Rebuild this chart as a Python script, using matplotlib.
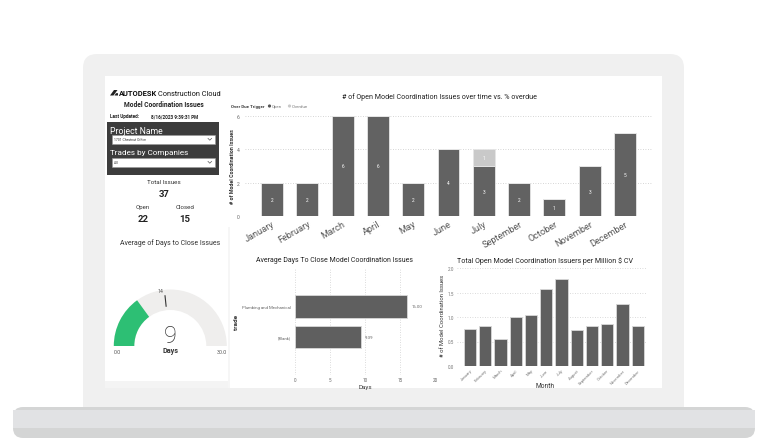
import matplotlib
matplotlib.use("Agg")
import matplotlib.pyplot as plt
from matplotlib.patches import Rectangle, FancyBboxPatch, Wedge, Circle, Polygon
from matplotlib import font_manager as fm
import numpy as np

# ---------------- data ----------------
months_top = ["January", "February", "March", "April", "May", "June", "July",
              "September", "October", "November", "December"]
open_issues = [2, 2, 6, 6, 2, 4, 3, 2, 1, 3, 5]
overdue_issues = [0, 0, 0, 0, 0, 0, 1, 0, 0, 0, 0]

trades = ["Plumbing and Mechanical", "(Blank)"]
avg_days = [16.00, 9.39]

months_all = ["January", "February", "March", "April", "May", "June", "July",
              "August", "September", "October", "November", "December"]
per_million = [0.75, 0.81, 0.55, 1.01, 1.04, 1.57, 1.77, 0.73, 0.81, 0.85, 1.26, 0.81]

gauge_value = 9
gauge_target = 14
gauge_min, gauge_max = 0.0, 30.0

total_issues, open_count, closed_count = 37, 22, 15

# ---------------- fonts ----------------
names = {f.name for f in fm.fontManager.ttflist}
FONT = "Liberation Sans Narrow" if "Liberation Sans Narrow" in names else "Roboto"
plt.rcParams["font.family"] = [FONT, "DejaVu Sans"]

W, H = 768, 439
fig = plt.figure(figsize=(W / 100, H / 100), dpi=100)
fig.patch.set_facecolor("white")

bg = fig.add_axes([0, 0, 1, 1])
bg.set_xlim(0, W)
bg.set_ylim(H, 0)
bg.axis("off")
bg.set_zorder(0)


def px_axes(l, t, r, b):
    ax = fig.add_axes([l / W, 1 - b / H, (r - l) / W, (b - t) / H])
    ax.set_zorder(2)
    ax.patch.set_alpha(0)
    return ax


# ---------------- laptop ----------------
bg.add_patch(FancyBboxPatch((83 + 14, 55 + 14), 601 - 28, 380 - 28,
                            boxstyle="round,pad=14", fc="#f0f0f0", ec="none"))
bg.add_patch(Rectangle((105, 77), 557, 312, fc="white", ec="none"))
# left card separators
bg.add_patch(Rectangle((105, 382), 123, 7, fc="#f4f4f4", ec="none"))
bg.add_patch(Rectangle((228, 228), 2, 161, fc="#f6f6f6", ec="none"))
# base
bg.add_patch(FancyBboxPatch((13 + 10, 418), 742 - 20, 11, boxstyle="round,pad=10",
                            fc="#d4d5d5", ec="none"))
bg.add_patch(Rectangle((13, 411), 742, 18, fc="#e1e2e4", ec="none"))

# ---------------- left panel ----------------
bg.add_patch(Polygon([[110, 96.5], [114, 91], [117.5, 91], [113.5, 96.5]], fc="#222", ec="none"))
bg.add_patch(Polygon([[114.5, 96.5], [116, 94.2], [118, 94.2], [118, 96.5]], fc="#222", ec="none"))
t_auto = bg.text(118.5, 94, "AUTODESK", fontsize=5.4, fontweight="bold", color="#111", va="center")
fig.canvas.draw()
x_end = t_auto.get_window_extent().x1
bg.text(x_end + 1.5, 94, "Construction Cloud", fontsize=5.3, color="#111", va="center")
bg.text(164, 105, "Model Coordination Issues", fontsize=4.8, fontweight="bold",
        color="#222", ha="center", va="center")
bg.text(110, 117, "Last Updated:", fontsize=3.4, fontweight="bold", color="#222", va="center")
bg.text(175, 117, "8/16/2023 9:39:31 PM", fontsize=3.3, fontweight="bold", color="#222",
        va="center", ha="center")
bg.add_patch(Rectangle((107, 123), 112, 53, fc="#3c3c3c", ec="none"))
bg.text(110, 132, "Project Name", fontsize=6.2, color="white", va="center")
bg.text(110, 153, "Trades by Companies", fontsize=5.9, color="white", va="center")
for y0, label in [(136, "1701 Chestnut Office"), (159, "All")]:
    bg.add_patch(Rectangle((112, y0), 103, 8.5, fc="white", ec="#999", lw=0.4))
    bg.text(114, y0 + 4.3, label, fontsize=2.4, color="#333", va="center")
    bg.plot([208, 209.8, 211.6], [y0 + 3.4, y0 + 5.2, y0 + 3.4], color="#555", lw=0.5)
bg.text(164, 183, "Total Issues", fontsize=4.5, color="#333", ha="center", va="center")
bg.text(164, 194.5, str(total_issues), fontsize=6.8, fontweight="bold", color="#222",
        ha="center", va="center")
bg.text(143, 208, "Open", fontsize=4.4, color="#333", ha="center", va="center")
bg.text(185, 208, "Closed", fontsize=4.4, color="#333", ha="center", va="center")
bg.text(143, 219.5, str(open_count), fontsize=6.8, fontweight="bold", color="#222",
        ha="center", va="center")
bg.text(185, 219.5, str(closed_count), fontsize=6.8, fontweight="bold", color="#222",
        ha="center", va="center")

# ---------------- gauge ----------------
gcx, gcy, R, r = 170.3, 347, 56.5, 36.0
bg.text(170, 243, "Average of Days to Close Issues", fontsize=5.0, color="#333",
        ha="center", va="center")


def vis2data(a):
    return 360 - a


frac_v = (gauge_value - gauge_min) / (gauge_max - gauge_min)
frac_t = (gauge_target - gauge_min) / (gauge_max - gauge_min)
ang_v = 180 - 180 * frac_v
ang_t = 180 - 180 * frac_t
bg.add_patch(Wedge((gcx, gcy), R, vis2data(180), vis2data(0), width=R - r, fc="#efeeed", ec="none"))
bg.add_patch(Wedge((gcx, gcy), R, vis2data(180), vis2data(ang_v), width=R - r, fc="#2dbf74", ec="none"))
ta = np.deg2rad(ang_t)
bg.plot([gcx + (r + 4) * np.cos(ta), gcx + (R - 6) * np.cos(ta)],
        [gcy - (r + 4) * np.sin(ta), gcy - (R - 6) * np.sin(ta)], color="#333", lw=0.8)
bg.text(gcx + (R - 2) * np.cos(ta) - 4, gcy - (R - 2) * np.sin(ta) - 1.5, f"{gauge_target}",
        fontsize=3.8, color="#555", ha="center", va="center")
bg.text(gcx, 336.5, f"{gauge_value}", fontsize=17, color="#333", ha="center", va="center",
        fontweight="light")
bg.text(gcx, 351.5, "Days", fontsize=5.2, fontweight="bold", color="#333", ha="center", va="center")
bg.text(117, 353, f"{gauge_min:.1f}", fontsize=3.9, color="#555", ha="center", va="center")
bg.text(222, 353, f"{gauge_max:.1f}", fontsize=3.9, color="#555", ha="center", va="center")

# ---------------- top bar chart ----------------
BAR = "#626262"
LIGHT = "#c9c9c9"
ax1 = px_axes(245, 113, 652, 217)
x = np.arange(len(months_top))
ax1.bar(x, open_issues, width=0.62, color=BAR, edgecolor="#e6e6e6", lw=0.6, zorder=3)
ax1.bar(x, overdue_issues, bottom=open_issues, width=0.62, color=LIGHT,
        edgecolor="#e6e6e6", lw=0.6, zorder=3)
for i, (o, d) in enumerate(zip(open_issues, overdue_issues)):
    ax1.text(i, o / 2, str(o), color="white", fontsize=3.4, ha="center", va="center", zorder=4)
    if d:
        ax1.text(i, o + d / 2, str(d), color="white", fontsize=3.4, ha="center", va="center", zorder=4)
ax1.set_xlim(-0.765, 10.765)
ax1.set_ylim(0, 6.24)
ax1.set_yticks([0, 2, 4, 6])
ax1.grid(axis="y", linestyle=(0, (1, 2)), color="#c8c8c8", lw=0.6, zorder=0)
ax1.set_xticks(x)
ax1.set_xticklabels(months_top, rotation=30, ha="right", rotation_mode="anchor",
                    fontsize=6.6, color="#555")
ax1.tick_params(axis="both", length=0)
ax1.tick_params(axis="y", labelsize=3.6, labelcolor="#666", pad=4)
ax1.tick_params(axis="x", pad=2)
for s in ax1.spines.values():
    s.set_visible(False)
bg.text(232, 167, "# of Model Coordination Issues", fontsize=3.9, fontweight="bold", color="#333",
        rotation=90, ha="center", va="center")
bg.text(440, 97, "# of Open Model Coordination Issues over time vs. % overdue", fontsize=5.1,
        color="#222", ha="center", va="center")
bg.text(231, 107, "Over Due Trigger", fontsize=3.2, fontweight="bold", color="#333", va="center")
bg.add_patch(Circle((269.5, 107), 1.6, fc="#555", ec="none"))
bg.text(272, 107, "Open", fontsize=3.2, color="#777", va="center")
bg.add_patch(Circle((289.5, 107), 1.6, fc=LIGHT, ec="none"))
bg.text(292, 107, "Overdue", fontsize=3.2, color="#777", va="center")

# ---------------- bottom middle horizontal bars ----------------
ax2 = px_axes(295, 270, 435, 376)
yy = np.arange(len(trades))
ax2.barh(yy, avg_days, height=0.75, color="#5f5f5f", edgecolor="#d8d8d8", lw=0.6, zorder=3)
for i, v in enumerate(avg_days):
    ax2.text(v + 0.6, i, f"{v:.2f}", fontsize=3.2, color="#666", va="center", ha="left")
ax2.set_xlim(0, 20)
ax2.set_ylim(2.25, -1.23)
ax2.set_xticks([0, 5, 10, 15, 20])
ax2.set_yticks(yy)
ax2.set_yticklabels(trades, fontsize=3.1, color="#666")
ax2.tick_params(axis="both", length=0)
ax2.tick_params(axis="x", labelsize=3.3, labelcolor="#666", pad=1.5)
ax2.tick_params(axis="y", pad=3)
ax2.grid(axis="x", linestyle=(0, (1, 2)), color="#cfcfcf", lw=0.6, zorder=0)
for s in ax2.spines.values():
    s.set_visible(False)
bg.text(365, 387.5, "Days", fontsize=4.5, color="#333", ha="center", va="center")
bg.text(237, 322, "trade", fontsize=4.6, fontweight="bold", color="#333", rotation=90,
        ha="center", va="center")
bg.text(335, 261, "Average Days To Close Model Coordination Issues", fontsize=5.0,
        color="#222", ha="center", va="center")

# ---------------- bottom right bars ----------------
ax3 = px_axes(457, 269, 647, 367)
xm = np.arange(len(months_all))
ax3.bar(xm, per_million, width=0.8, color="#5f5f5f", edgecolor="#d8d8d8", lw=0.6, zorder=3)
ax3.set_xlim(-0.85, 11.6)
ax3.set_ylim(0, 2.0)
ax3.set_yticks([0, 0.5, 1.0, 1.5, 2.0])
ax3.set_yticklabels([f"{v:.1f}" for v in [0, 0.5, 1.0, 1.5, 2.0]])
ax3.set_xticks(xm)
ax3.set_xticklabels(months_all, rotation=45, ha="right", rotation_mode="anchor",
                    fontsize=3.0, color="#777")
ax3.tick_params(axis="both", length=0)
ax3.tick_params(axis="y", labelsize=3.3, labelcolor="#777", pad=2)
ax3.tick_params(axis="x", pad=1.5)
ax3.grid(axis="y", linestyle=(0, (1, 2)), color="#cfcfcf", lw=0.6, zorder=0)
for s in ax3.spines.values():
    s.set_visible(False)
bg.text(545, 387, "Month", fontsize=4.8, color="#333", ha="center", va="center")
bg.text(442, 316, "# of Model Coordination Issues", fontsize=4.2, color="#333", rotation=90,
        ha="center", va="center")
bg.text(457, 261, "Total Open Model Coordination Issuers per Million $ CV", fontsize=5.15,
        color="#222", ha="left", va="center")

fig.savefig("out.png", dpi=100)
